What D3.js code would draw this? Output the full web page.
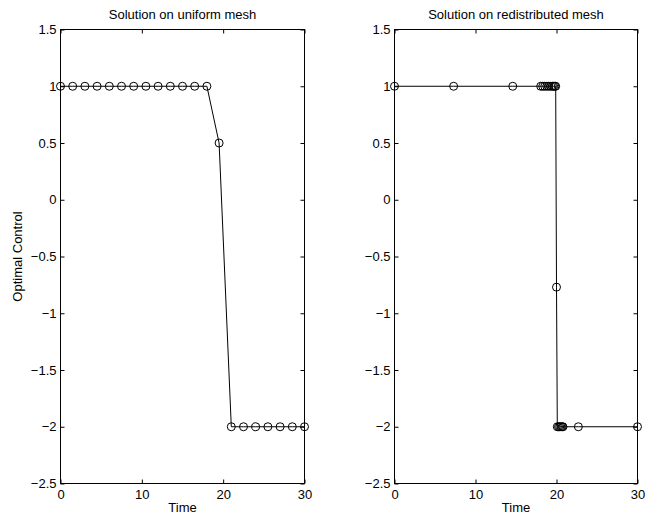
<!DOCTYPE html>
<html>
<head>
<meta charset="utf-8">
<script src="https://cdn.jsdelivr.net/npm/d3@7"></script>
<style>
  body { margin: 0; background: #fff; }
  text { font-family: "Liberation Sans", Arial, Helvetica, sans-serif; }
</style>
</head>
<body>
<div id="chart"></div>
<script>
// ---------------  DATA  ---------------
const uniformTime = [0, 1.5, 3, 4.5, 6, 7.5, 9, 10.5, 12, 13.5, 15, 16.5, 18, 19.5, 21, 22.5, 24, 25.5, 27, 28.5, 30];
const uniformControl = [1, 1, 1, 1, 1, 1, 1, 1, 1, 1, 1, 1, 1, 0.5, -2, -2, -2, -2, -2, -2, -2];

const redistTime = [0, 7.3, 14.6, 18.05, 18.3, 18.55, 18.8, 19.05, 19.3, 19.5, 19.65, 19.8, 19.9,
  20.0, 20.1, 20.25, 20.4, 20.55, 20.7, 20.8, 22.7, 30];
const redistControl = [1, 1, 1, 1, 1, 1, 1, 1, 1, 1, 1, 1, 1,
  -0.77, -2, -2, -2, -2, -2, -2, -2, -2];

const xTicks = [0, 10, 20, 30];
const yTicks = [-2.5, -2, -1.5, -1, -0.5, 0, 0.5, 1, 1.5];
const titles = ["Solution on uniform mesh", "Solution on redistributed mesh"];

// ---------------  INITIALIZATION  ---------------
const w = 652, h = 515;
const top_ = 29.5, bottom_ = 483.5;
const panels = [
  { left: 60.5, right: 304.5, time: uniformTime, ctrl: uniformControl, title: titles[0], ylabel: true },
  { left: 394.5, right: 637.5, time: redistTime, ctrl: redistControl, title: titles[1], ylabel: false }
];
const fontSize = "13px";
const fmt = d3.format("~g");

const svg = d3.select("#chart").append("svg").attr("width", w).attr("height", h);

panels.forEach((p) => {
  const x = d3.scaleLinear().domain([0, 30]).range([p.left, p.right]);
  const y = d3.scaleLinear().domain([-2.5, 1.5]).range([bottom_, top_]);
  const g = svg.append("g");

  // axes: ticks pointing inwards on all four sides
  const axB = g.append("g").attr("transform", "translate(0," + bottom_ + ")")
    .call(d3.axisBottom(x).tickValues(xTicks).tickFormat(fmt).tickSize(-4).tickPadding(6));
  const axT = g.append("g").attr("transform", "translate(0," + top_ + ")")
    .call(d3.axisTop(x).tickValues(xTicks).tickFormat("").tickSize(-4));
  const axL = g.append("g").attr("transform", "translate(" + p.left + ",0)")
    .call(d3.axisLeft(y).tickValues(yTicks).tickFormat(fmt).tickSize(-4).tickPadding(4));
  const axR = g.append("g").attr("transform", "translate(" + p.right + ",0)")
    .call(d3.axisRight(y).tickValues(yTicks).tickFormat("").tickSize(-4));
  [axB, axT, axL, axR].forEach((a) => {
    a.select(".domain").remove();
    a.selectAll("text").style("font-size", fontSize).attr("fill", "#000")
      .style("font-family", '"Liberation Sans", Arial, sans-serif');
    a.selectAll("line").attr("stroke", "#000");
  });

  // frame
  g.append("rect")
    .attr("x", p.left).attr("y", top_)
    .attr("width", p.right - p.left).attr("height", bottom_ - top_)
    .attr("fill", "none").attr("stroke", "#000").attr("stroke-width", 1);

  // line + markers
  const pts = p.time.map((t, i) => [t, p.ctrl[i]]);
  g.append("path")
    .datum(pts)
    .attr("fill", "none").attr("stroke", "#000").attr("stroke-width", 1)
    .attr("d", d3.line().x((d) => x(d[0])).y((d) => y(d[1])));
  g.selectAll("circle.pt").data(pts).enter().append("circle")
    .attr("class", "pt")
    .attr("cx", (d) => x(d[0])).attr("cy", (d) => y(d[1])).attr("r", 4)
    .attr("fill", "none").attr("stroke", "#000").attr("stroke-width", 1);

  // labels
  g.append("text").attr("x", (p.left + p.right) / 2).attr("y", 19)
    .attr("text-anchor", "middle").style("font-size", fontSize).text(p.title);
  g.append("text").attr("x", (p.left + p.right) / 2).attr("y", 512)
    .attr("text-anchor", "middle").style("font-size", fontSize).text("Time");
  if (p.ylabel) {
    g.append("text").attr("transform", "rotate(-90)")
      .attr("x", -(top_ + bottom_) / 2).attr("y", 22)
      .attr("text-anchor", "middle").style("font-size", fontSize).text("Optimal Control");
  }
});
</script>
</body>
</html>
